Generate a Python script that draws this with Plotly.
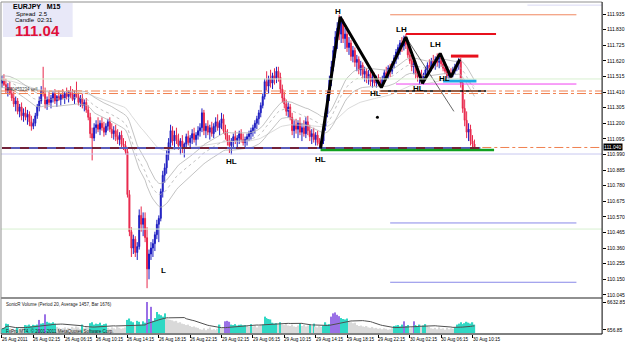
import plotly.graph_objects as go
import pandas as pd

# ---------------- data ----------------
open_ = [
111.47,111.49,111.46,111.42,111.44,111.40,111.37,111.33,111.35,111.28,
111.31,111.25,111.27,111.24,111.26,111.21,111.18,111.20,111.25,111.31,
111.35,111.42,111.40,111.33,111.36,111.34,111.37,111.40,111.35,111.38,
111.36,111.39,111.37,111.40,111.38,111.41,111.39,111.36,111.40,111.38,
111.34,111.37,111.32,111.34,111.29,111.24,111.13,111.10,111.17,111.19,
111.16,111.20,111.17,111.14,111.18,111.21,111.16,111.13,111.15,111.11,
111.09,111.12,111.06,111.05,111.01,110.72,110.47,110.36,110.42,110.33,
110.37,110.58,110.52,110.56,110.43,110.22,110.32,110.36,110.39,110.45,
110.52,110.56,110.74,110.85,110.90,110.99,111.07,111.15,111.08,111.12,
111.09,111.05,111.08,111.03,111.06,111.11,111.07,111.10,111.13,111.09,
111.12,111.15,111.17,111.27,111.15,111.18,111.14,111.17,111.13,111.18,
111.21,111.17,111.20,111.23,111.15,111.12,111.08,111.05,111.08,111.11,
111.08,111.10,111.13,111.09,111.07,111.09,111.11,111.13,111.15,111.17,
111.20,111.23,111.27,111.32,111.38,111.48,111.45,111.50,111.47,111.52,
111.50,111.55,111.51,111.43,111.37,111.33,111.28,111.31,111.24,111.15,
111.19,111.16,111.20,111.14,111.17,111.13,111.21,111.15,111.11,111.13,
111.09,111.12,111.07,111.06,111.08,111.18,111.27,111.39,111.49,111.58,
111.69,111.78,111.84,111.80,111.88,111.77,111.80,111.71,111.74,111.65,
111.69,111.61,111.63,111.56,111.59,111.53,111.55,111.50,111.53,111.48,
111.51,111.47,111.50,111.48,111.46,111.50,111.54,111.52,111.57,111.55,
111.60,111.64,111.68,111.71,111.74,111.72,111.77,111.73,111.66,111.62,
111.58,111.60,111.53,111.51,111.53,111.49,111.52,111.56,111.59,111.57,
111.62,111.60,111.63,111.61,111.64,111.60,111.57,111.55,111.52,111.54,
111.53,111.56,111.58,111.60,111.62,111.47,111.30,111.22,111.14,111.16,
111.08,111.06]
high = [
111.52,111.53,111.50,111.47,111.48,111.44,111.41,111.38,111.37,111.33,
111.34,111.30,111.31,111.29,111.28,111.25,111.23,111.27,111.33,111.38,
111.45,111.58,111.44,111.38,111.41,111.39,111.42,111.43,111.39,111.42,
111.40,111.43,111.41,111.44,111.42,111.45,111.43,111.42,111.48,111.41,
111.39,111.40,111.36,111.37,111.32,111.27,111.17,111.20,111.22,111.24,
111.22,111.24,111.21,111.20,111.23,111.24,111.20,111.18,111.19,111.16,
111.14,111.15,111.10,111.08,111.03,110.75,110.50,110.45,110.44,110.40,
110.62,110.64,110.60,110.60,110.50,110.35,110.40,110.42,110.47,110.55,
110.58,110.76,110.88,110.93,111.02,111.10,111.19,111.18,111.15,111.17,
111.13,111.10,111.12,111.07,111.13,111.15,111.12,111.16,111.17,111.14,
111.18,111.20,111.30,111.29,111.20,111.22,111.19,111.21,111.20,111.24,
111.26,111.22,111.27,111.26,111.19,111.16,111.12,111.10,111.13,111.15,
111.12,111.15,111.16,111.13,111.11,111.13,111.15,111.17,111.19,111.22,
111.25,111.29,111.34,111.40,111.50,111.55,111.52,111.56,111.54,111.57,
111.58,111.58,111.54,111.46,111.41,111.36,111.34,111.33,111.27,111.22,
111.23,111.22,111.24,111.20,111.22,111.24,111.25,111.19,111.16,111.17,
111.14,111.15,111.10,111.10,111.20,111.30,111.42,111.52,111.62,111.72,
111.82,111.88,111.93,111.92,111.90,111.84,111.83,111.78,111.76,111.72,
111.71,111.66,111.65,111.62,111.61,111.58,111.57,111.56,111.55,111.53,
111.54,111.52,111.53,111.51,111.52,111.56,111.58,111.59,111.60,111.62,
111.66,111.70,111.73,111.76,111.78,111.79,111.80,111.76,111.70,111.66,
111.63,111.62,111.57,111.55,111.56,111.54,111.58,111.61,111.63,111.64,
111.66,111.65,111.67,111.66,111.67,111.63,111.61,111.58,111.56,111.57,
111.58,111.60,111.62,111.64,111.64,111.50,111.36,111.28,111.20,111.19,
111.12,111.09]
low = [
111.44,111.45,111.40,111.38,111.39,111.35,111.31,111.28,111.26,111.24,
111.22,111.21,111.22,111.19,111.18,111.15,111.16,111.18,111.23,111.28,
111.33,111.38,111.30,111.29,111.32,111.30,111.34,111.33,111.31,111.35,
111.32,111.36,111.33,111.36,111.34,111.37,111.35,111.33,111.37,111.32,
111.31,111.30,111.28,111.27,111.22,111.10,110.95,111.08,111.13,111.14,
111.12,111.15,111.11,111.12,111.15,111.14,111.10,111.09,111.08,111.06,
111.05,111.04,111.02,110.99,110.70,110.44,110.30,110.32,110.30,110.28,
110.35,110.47,110.44,110.40,110.09,110.15,110.28,110.30,110.34,110.42,
110.40,110.54,110.70,110.80,110.86,110.95,111.03,111.05,111.02,111.06,
111.02,110.99,111.00,110.97,111.04,111.05,111.03,111.06,111.07,111.05,
111.09,111.11,111.14,111.12,111.10,111.12,111.09,111.11,111.10,111.14,
111.15,111.12,111.16,111.13,111.09,111.05,111.00,110.99,111.03,111.06,
111.04,111.06,111.07,111.05,111.04,111.05,111.08,111.09,111.11,111.13,
111.16,111.19,111.24,111.30,111.36,111.42,111.40,111.44,111.43,111.46,
111.47,111.48,111.40,111.34,111.30,111.25,111.24,111.22,111.12,111.10,
111.13,111.10,111.12,111.08,111.11,111.10,111.12,111.08,111.06,111.07,
111.05,111.05,111.03,111.03,111.06,111.15,111.24,111.35,111.45,111.55,
111.64,111.70,111.76,111.74,111.74,111.70,111.68,111.66,111.62,111.61,
111.58,111.55,111.53,111.52,111.50,111.48,111.47,111.46,111.45,111.44,
111.45,111.44,111.45,111.44,111.44,111.47,111.49,111.50,111.51,111.53,
111.57,111.60,111.63,111.66,111.68,111.69,111.70,111.64,111.60,111.55,
111.53,111.50,111.48,111.46,111.47,111.46,111.49,111.52,111.54,111.55,
111.57,111.56,111.58,111.57,111.58,111.55,111.53,111.50,111.49,111.50,
111.51,111.53,111.55,111.56,111.44,111.27,111.18,111.10,111.08,111.05,
111.03,111.03]
close = [
111.49,111.46,111.42,111.44,111.40,111.37,111.33,111.35,111.28,111.31,
111.25,111.27,111.24,111.26,111.21,111.18,111.20,111.25,111.31,111.35,
111.42,111.40,111.33,111.36,111.34,111.37,111.40,111.35,111.38,111.36,
111.39,111.37,111.40,111.38,111.41,111.39,111.36,111.40,111.38,111.34,
111.37,111.32,111.34,111.29,111.24,111.13,111.10,111.17,111.19,111.16,
111.20,111.17,111.14,111.18,111.21,111.16,111.13,111.15,111.11,111.09,
111.12,111.06,111.05,111.01,110.72,110.47,110.36,110.42,110.33,110.37,
110.58,110.52,110.56,110.43,110.22,110.32,110.36,110.39,110.45,110.52,
110.56,110.74,110.85,110.90,110.99,111.07,111.15,111.08,111.12,111.09,
111.05,111.08,111.03,111.06,111.11,111.07,111.10,111.13,111.09,111.12,
111.15,111.17,111.27,111.15,111.18,111.14,111.17,111.13,111.18,111.21,
111.17,111.20,111.23,111.15,111.12,111.08,111.05,111.08,111.11,111.08,
111.10,111.13,111.09,111.07,111.09,111.11,111.13,111.15,111.17,111.20,
111.23,111.27,111.32,111.38,111.48,111.45,111.50,111.47,111.52,111.50,
111.55,111.51,111.43,111.37,111.33,111.28,111.31,111.24,111.15,111.19,
111.16,111.20,111.14,111.17,111.13,111.21,111.15,111.11,111.13,111.09,
111.12,111.07,111.06,111.08,111.18,111.27,111.39,111.49,111.58,111.69,
111.78,111.84,111.80,111.88,111.77,111.80,111.71,111.74,111.65,111.69,
111.61,111.63,111.56,111.59,111.53,111.55,111.50,111.53,111.48,111.51,
111.47,111.50,111.48,111.46,111.50,111.54,111.52,111.57,111.55,111.60,
111.64,111.68,111.71,111.74,111.72,111.77,111.73,111.66,111.62,111.58,
111.60,111.53,111.51,111.53,111.49,111.52,111.56,111.59,111.57,111.62,
111.60,111.63,111.61,111.64,111.60,111.57,111.55,111.52,111.54,111.53,
111.56,111.58,111.60,111.62,111.47,111.30,111.22,111.14,111.16,111.08,
111.06,111.04]
volume = [
900,1100,2000,1900,1000,800, 700,900,1200,800,1000,1100,
1700,1600,1800,1500,1750,1650,1800, 2800, 2000,2100, 4000,
2400,2200,2100,2300,2000,
1300,1100,900,1000,1200,800,1100,900,1300,1000,1400,1200,900,
1800, 1000,1200,1100,
2100,2300,1800,2000,1900,2200,1700,1900,2000,
1100,900,1200,1000,800,1300,1100,900,1000,1200,
2800,3100,2500,2300,1600,2600,2400,1800,2500,2200,
6630,3000,5600,2600,
3200,4500,4000,3800,3500,4200,
3100,2900,2800,2700,2500,2600,2200,2300,2000,1900,1700,1800,1500,1300,1400,1200,1100,
800,700,1000,600,900,1200,700,800,600,900,1800,
1100,1000, 2500,2600,2400,
1800,1700,1900,1600,1750,1800,1650,1700,
1500,1300,1900,1400,1600,1200,1500,1700,1800,
3500,3200,3000,2900,
2200,2000,2100,1900,2300,
1800,1700,1900,1600,1500,1800,1400,1300,1600,2100,1500,1700,1400,1600,1800,1500,2000,1400,
1200,1500,1300,1600, 2300, 1800,1900,
3500,4200,4400,3900,3600,
3200,3000,2900,3100,
2400,2300,2100,2200,
1700,1500,1600,1400,1300,1500,1200,1100,1300,1000,1100,900,1000,800,1000,900,700,800,1000,
1500,
1600,1700,1400,1800,2500,1500,1700,
1000,1200, 2500,
1700,1500,1800,1400,1600,1900,1500,1300,
1000,900,1100,800,1200,900,1000,700,1100,800,1000,900,1200,
1800,2000,2300,1900,2100,2400,2200,2000,2300,1800]
climax_bars = [19, 22, 74, 76, 114, 115, 116, 168, 169, 170, 171, 172, 205, 210]

time_label_bars = [0, 16, 32, 48, 64, 80, 96, 112, 128, 144, 160, 176, 192, 208, 224, 240]
time_labels = ["26 Aug 2011", "26 Aug 02:15", "26 Aug 06:15", "26 Aug 10:15", "26 Aug 14:15",
               "26 Aug 18:15", "26 Aug 22:15", "29 Aug 02:15", "29 Aug 06:15", "29 Aug 10:15",
               "29 Aug 14:15", "29 Aug 18:15", "29 Aug 22:15", "30 Aug 02:15", "30 Aug 06:15",
               "30 Aug 10:15"]
price_ticks = [111.935, 111.830, 111.725, 111.620, 111.515, 111.410, 111.305, 111.200, 111.095,
               110.990, 110.885, 110.780, 110.675, 110.570, 110.465, 110.360, 110.255, 110.150, 110.045]
last_price = 111.04
vol_ticks = [6632.85, 656.85]

# drawn horizontal levels (price, first bar, last bar)
level_price = [111.93, 111.80, 111.652, 111.484, 111.464, 111.417, 111.02, 110.529, 110.13, 111.033, 111.995]
level_from = [198, 206, 229, 225, 201, 193, 162.5, 198, 198, 0, 268]
level_to = [293, 252, 243, 242, 293, 247, 251, 293, 293, 244, 306]
# full-width lines
full_price = [111.498, 110.488, 111.417, 111.40, 110.993]
order_price = 111.037
order_from = 245

# zig-zag swing drawing
zz_bar = [162.5, 172.5, 193.5, 206, 214.5, 223.5, 229, 233.5]
zz_price = [111.03, 111.915, 111.44, 111.78, 111.47, 111.67, 111.51, 111.63]
thin_bar = [206, 230.5]
thin_price = [111.78, 111.28]
dot_bar = [191.5]
dot_price = [111.24]
swing_text = ["H", "LH", "LH", "HL", "HL", "HL", "HL", "HL", "L"]
swing_bar = [171.6, 203.6, 221.3, 190.4, 212.2, 225.9, 162.4, 117.3, 82.2]
swing_price = [111.955, 111.834, 111.733, 111.397, 111.437, 111.498, 110.953, 110.946, 110.212]

# ---------------- derived ----------------
bars = list(range(len(close)))
ema_h = pd.Series(high).ewm(span=34, adjust=False).mean()
ema_l = pd.Series(low).ewm(span=34, adjust=False).mean()
ema_c = pd.Series(close).ewm(span=34, adjust=False).mean()
ema_89 = pd.Series(close).ewm(span=89, adjust=False).mean()
vol_ma = pd.Series(volume).rolling(20, min_periods=1).mean()
vol_colors = []
for i, v in enumerate(volume):
    if i in climax_bars:
        vol_colors.append("#9a70e6")
    elif v >= vol_ma[i]:
        vol_colors.append("#2fd8c4")
    else:
        vol_colors.append("#d9d9d9")

W, H = 625, 344
def px(x): return x / W
def py(y): return 1 - y / H

FONT = "Liberation Sans, Arial, sans-serif"
fig = go.Figure()

# EMAs
for s, dash, col in [(ema_89, "solid", "#d0d0d0"), (ema_h, "solid", "#b4b4b4"),
                     (ema_l, "solid", "#b4b4b4"), (ema_c, "dot", "#b4b4b4")]:
    fig.add_trace(go.Scatter(x=bars, y=s, mode="lines", line=dict(color=col, width=0.8, dash=dash),
                             xaxis="x", yaxis="y", hoverinfo="skip"))

# full-width lines
full_styles = [("#d8f0d0", 1, "solid"), ("#d8f0d0", 1, "solid"), ("#f08050", 1, "dashdot"),
               ("#f08050", 1, "dashdot"), ("#c8c8f0", 1, "solid")]
for p, (c, w, d) in zip(full_price, full_styles):
    fig.add_shape(type="line", xref="paper", yref="y", x0=px(1), x1=px(605), y0=p, y1=p,
                  line=dict(color=c, width=w, dash=d))

level_styles = [("#f08860", 1, "solid"), ("#e8101c", 2, "solid"), ("#e8101c", 3, "solid"),
                ("#1ea8e8", 3, "solid"), ("#f040f0", 1, "solid"), ("#000000", 1.5, "solid"),
                ("#10a020", 2.5, "solid"), ("#8888e8", 1, "solid"), ("#8888e8", 1, "solid"),
                ("#7a1010", 1.5, "dash"), ("#d8d8f4", 1, "solid")]
# underlying blue band for the sell-order line
fig.add_trace(go.Scatter(x=[level_from[9], level_to[9]], y=[level_price[9], level_price[9]],
                         mode="lines", line=dict(color="#5a5ab8", width=2), hoverinfo="skip"))
for p, a, b, (c, w, d) in zip(level_price, level_from, level_to, level_styles):
    fig.add_trace(go.Scatter(x=[a, b], y=[p, p], mode="lines", line=dict(color=c, width=w, dash=d),
                             hoverinfo="skip"))
fig.add_shape(type="line", xref="x", yref="y", x0=order_from, x1=306, y0=order_price, y1=order_price,
              line=dict(color="#f08050", width=1, dash="dashdot"))

# candles
fig.add_trace(go.Candlestick(x=bars, open=open_, high=high, low=low, close=close,
                             increasing=dict(line=dict(color="#1c1cc0", width=1), fillcolor="#1c1cc0"),
                             decreasing=dict(line=dict(color="#e8284c", width=1), fillcolor="#e8284c"),
                             whiskerwidth=0, xaxis="x", yaxis="y", hoverinfo="skip"))

# zigzag
fig.add_trace(go.Scatter(x=thin_bar, y=thin_price, mode="lines", line=dict(color="#404040", width=0.8)))
fig.add_trace(go.Scatter(x=zz_bar, y=zz_price, mode="lines", line=dict(color="#000000", width=3)))
fig.add_trace(go.Scatter(x=dot_bar, y=dot_price, mode="markers", marker=dict(color="#000000", size=3)))
for t, b, p in zip(swing_text, swing_bar, swing_price):
    fig.add_annotation(x=b, y=p, xref="x", yref="y", text="<b>%s</b>" % t, showarrow=False,
                       font=dict(family=FONT, size=8, color="#000000"))

# volume
fig.add_trace(go.Bar(x=bars, y=volume, marker=dict(color=vol_colors, line=dict(width=0)), width=0.7,
                     xaxis="x2", yaxis="y2", hoverinfo="skip"))
fig.add_trace(go.Scatter(x=bars, y=vol_ma, mode="lines", line=dict(color="#505050", width=1),
                         xaxis="x2", yaxis="y2", hoverinfo="skip"))

# info box
fig.add_shape(type="rect", xref="paper", yref="paper", x0=px(3), x1=px(73), y0=py(37), y1=py(3),
              fillcolor="#e8e8f8", line=dict(width=0), layer="above")
info = [("<b>EURJPY   M15</b>", 37, 6, 7, "#000000"), ("Spread  2.5", 32, 14, 6, "#000000"),
        ("Candle  02:31", 34, 20, 6, "#000000"), ("<b>111.04</b>", 38, 30, 15, "#e0103a")]
for t, x, y, s, c in info:
    fig.add_annotation(x=px(x), y=py(y), xref="paper", yref="paper", text=t, showarrow=False,
                       font=dict(family=FONT, size=s, color=c), xanchor="center", yanchor="middle")

fig.add_annotation(x=px(5), y=py(89), xref="paper", yref="paper", text="#40453234 sell", showarrow=False,
                   font=dict(family=FONT, size=4.5, color="#404040"), xanchor="left", yanchor="middle")

# borders
for x0, y0, x1, y1, c, w in [(1, 2, 605, 2, "#909090", 1), (1, 2, 1, 334, "#909090", 1),
                             (1, 298, 605, 298, "#909090", 2), (1, 334, 605, 334, "#000000", 1),
                             (605, 2, 605, 334, "#000000", 1)]:
    fig.add_shape(type="line", xref="paper", yref="paper", x0=px(x0), x1=px(x1), y0=py(y0), y1=py(y1),
                  line=dict(color=c, width=w))

# last price tag
fig.add_annotation(x=px(606), y=last_price, xref="paper", yref="y", text="111.040", showarrow=False,
                   xanchor="left", yanchor="middle", bgcolor="#000000",
                   font=dict(family=FONT, size=5, color="#ffffff"), borderpad=0)

# sub-window texts
fig.add_annotation(x=px(4), y=py(304), xref="paper", yref="paper",
                   text="SonicR Volume (Period 20, Average 1457, Bar 1676)", showarrow=False,
                   xanchor="left", yanchor="middle", font=dict(family=FONT, size=4.5, color="#202020"))
fig.add_annotation(x=px(4), y=py(331), xref="paper", yref="paper",
                   text="FxPro MT4, \u00a9 2001-2011 MetaQuotes Software Corp.", showarrow=False,
                   xanchor="left", yanchor="middle", font=dict(family=FONT, size=4.5, color="#202020"))

for b, t in zip(time_label_bars, time_labels):
    fig.add_annotation(x=b, y=py(339.5), xref="x2", yref="paper", text=t, showarrow=False,
                       xanchor="left", yanchor="middle", xshift=-2,
                       font=dict(family=FONT, size=4.6, color="#000000"))

xr = [-0.5, 306.1]
fig.update_layout(
    width=W, height=H, margin=dict(l=0, r=0, t=0, b=0), showlegend=False,
    paper_bgcolor="#ffffff", plot_bgcolor="#ffffff",
    xaxis=dict(domain=[px(1), px(605)], range=xr, showticklabels=False, showgrid=False,
               zeroline=False, anchor="y", rangeslider=dict(visible=False), fixedrange=True),
    xaxis2=dict(domain=[px(1), px(605)], range=xr, matches="x", anchor="y2", showgrid=False,
                zeroline=False, tickmode="array", tickvals=time_label_bars, ticks="outside",
                ticklen=3, tickcolor="#000000", showticklabels=False),
    yaxis=dict(domain=[py(298), py(2)], range=[110.024, 112.016], side="right", anchor="x",
               tickmode="array", tickvals=price_ticks, ticktext=["%.3f" % v for v in price_ticks],
               ticks="outside", ticklen=3, tickcolor="#000000", showgrid=False, zeroline=False,
               tickfont=dict(family=FONT, size=5, color="#000000")),
    yaxis2=dict(domain=[py(334), py(299)], range=[-214, 7276], side="right", anchor="x2",
                tickmode="array", tickvals=vol_ticks, ticktext=["%.2f" % v for v in vol_ticks],
                ticks="outside", ticklen=3, tickcolor="#000000", showgrid=False, zeroline=False,
                tickfont=dict(family=FONT, size=5, color="#000000")),
)
fig.write_html("out.html")
